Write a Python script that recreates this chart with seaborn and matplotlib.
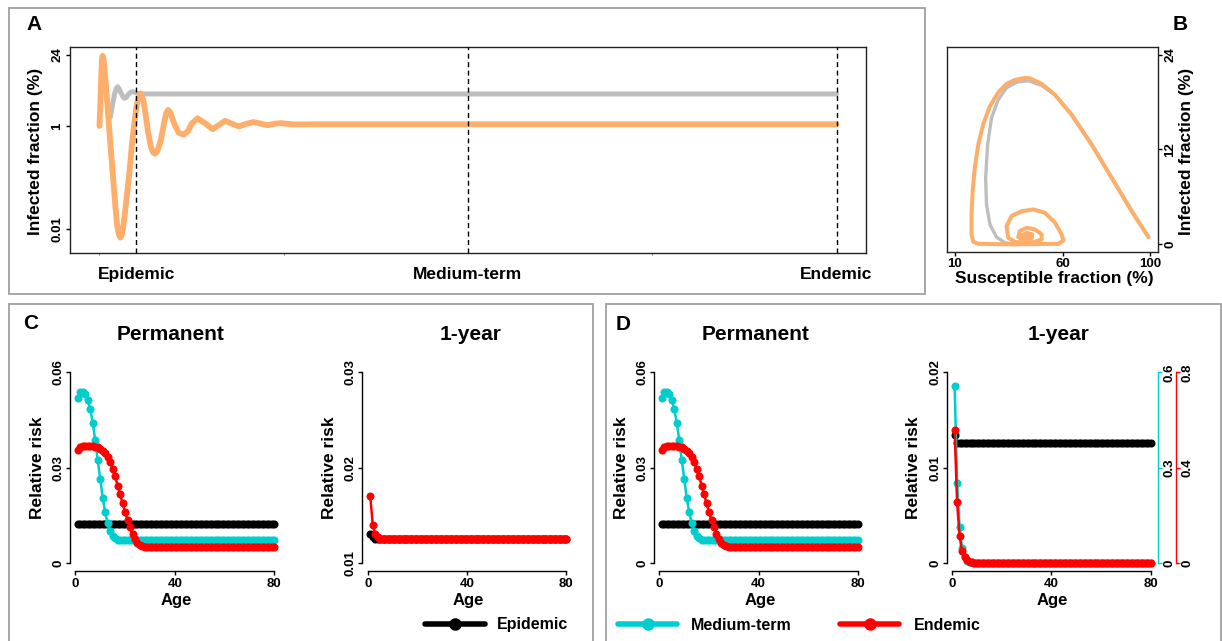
import matplotlib
matplotlib.use('Agg')
import matplotlib.pyplot as plt
import seaborn as sns
from matplotlib.patches import Rectangle
from matplotlib.lines import Line2D
from matplotlib.ticker import NullLocator

# ---------------- data ----------------
# Panel A: infected fraction (%) over time (arbitrary time units, 0..40)
a_time_orange = [0.0, 0.05, 0.10, 0.14, 0.17, 0.22, 0.30, 0.44, 0.58, 0.72, 0.85, 0.95, 1.05, 1.13,
                 1.21, 1.30, 1.38, 1.50, 1.62, 1.75, 1.89, 2.00, 2.12, 2.25, 2.38, 2.52, 2.65, 2.79,
                 2.90, 3.02, 3.15, 3.33, 3.52, 3.62, 3.73, 3.85, 4.05, 4.30, 4.56, 4.80, 5.00, 5.32,
                 5.70, 6.14, 6.50, 6.82, 7.20, 7.58, 7.95, 8.36, 8.75, 9.12, 9.50, 9.84, 10.2, 10.56,
                 12.0, 40.0]
a_orange = [1.0, 2.8, 10, 20, 22.9, 20, 10, 2.34, 0.50, 0.12, 0.032, 0.0126, 0.0079, 0.0069,
            0.0079, 0.012, 0.0204, 0.050, 0.12, 0.40, 1.12, 2.24, 3.63, 4.27, 3.16, 1.51, 0.71, 0.40,
            0.31, 0.29, 0.33, 0.54, 1.20, 1.78, 2.04, 1.82, 1.12, 0.74, 0.68, 0.79, 1.10, 1.41,
            1.15, 0.87, 1.05, 1.26, 1.10, 0.98, 1.10, 1.19, 1.11, 1.035, 1.10, 1.135, 1.10, 1.07,
            1.08, 1.08]
a_time_gray = [0.59, 0.66, 0.74, 0.82, 0.90, 0.98, 1.06, 1.15, 1.25, 1.35, 1.46, 1.58, 1.70, 1.80,
               1.90, 2.0, 2.25, 40.0]
a_gray = [1.48, 2.1, 3.0, 4.2, 5.2, 5.75, 5.3, 4.5, 3.8, 3.43, 3.6, 4.17, 4.5, 4.62, 4.5, 4.37, 4.17, 4.17]
a_tick_pos = [2, 20, 40]
a_tick_labels = ['Epidemic', 'Medium-term', 'Endemic']

# Panel B: phase plane (susceptible %, infected %)
b_orange_S = [99.2, 91.5, 82.3, 73.1, 63.8, 56.2, 50.0, 44.6, 42.3, 37.7, 33.8, 30.0, 26.2, 23.1,
              20.8, 19.2, 18.2, 17.7, 17.7, 18.5, 20.8, 36.2, 57.7, 60.0, 59.2, 56.2, 51.5, 46.2,
              40.8, 36.2, 33.8, 34.6, 37.7, 45.4, 50.0, 50.0, 46.9, 43.1, 40.0, 39.2, 42.3, 45.4,
              45.7, 43.1, 41.1, 42.3, 43.8, 43.5]
b_orange_I = [0.93, 4.2, 8.4, 12.6, 16.4, 18.9, 20.3, 21.0, 21.05, 20.8, 20.3, 19.2, 17.5, 15.2,
              12.6, 9.7, 6.7, 3.8, 1.26, 0.34, 0.08, 0.0, 0.08, 0.5, 1.26, 2.74, 4.0, 4.42,
              4.2, 3.6, 2.3, 0.84, 0.3, 0.21, 0.63, 1.26, 1.9, 2.1, 1.7, 0.93, 0.5, 0.76,
              1.26, 1.47, 1.18, 0.84, 0.97, 1.05]
b_gray_S = [99.2, 91.5, 82.3, 73.1, 63.8, 56.2, 50.0, 43.8, 38.5, 33.8, 30.0, 26.9, 25.1, 24.2,
            24.6, 26.2, 29.2, 33.1, 37.7]
b_gray_I = [0.93, 4.2, 8.4, 12.6, 16.4, 18.9, 20.1, 20.7, 20.5, 19.8, 18.3, 16.0, 12.6, 8.4,
            5.05, 2.5, 0.93, 0.21, 0.0]

# Panels C/D: relative risk by age
ages = list(range(1, 81))
perm_epidemic = [0.0124] * 80
perm_medium = [0.0520, 0.0539, 0.0539, 0.0531, 0.0513, 0.0484, 0.0441, 0.0386, 0.0323, 0.0265,
               0.0205, 0.0160, 0.0125, 0.0100, 0.0086, 0.0078, 0.0074, 0.0072] + [0.0071] * 62
perm_endemic = [0.0357, 0.0366, 0.0367, 0.0367, 0.0367, 0.0367, 0.0367, 0.0366, 0.0364, 0.0360,
                0.0354, 0.0346, 0.0334, 0.0318, 0.0297, 0.0273, 0.0244, 0.0216, 0.0188, 0.0160,
                0.0136, 0.0113, 0.0092, 0.0076, 0.0063, 0.0057, 0.0053, 0.0051, 0.0050] + [0.0049] * 51
c1_epidemic = [0.0130, 0.0127] + [0.0125] * 78
c1_endemic = [0.01705, 0.0140, 0.0130, 0.0127] + [0.0125] * 76
d1_epidemic = [0.0134] + [0.01256] * 79
d1_medium = [0.556, 0.253, 0.112, 0.047, 0.020, 0.008, 0.004, 0.002] + [0.001] * 72   # right axis 0-0.6
d1_endemic = [0.557, 0.255, 0.112, 0.049, 0.025, 0.012, 0.006, 0.003] + [0.002] * 72  # right axis 0-0.8

ORANGE = '#FDAE6B'
GRAY = '#BEBEBE'
CYAN = '#00CDCD'
RED = '#FF0000'
BLACK = '#000000'
FRAME = '#A0A0A0'

# ---------------- style ----------------
sns.set_theme(style='white')
plt.rcParams['font.family'] = ['Liberation Sans', 'DejaVu Sans']
plt.rcParams['font.weight'] = 'bold'
plt.rcParams['axes.labelweight'] = 'bold'
plt.rcParams['axes.titleweight'] = 'bold'
plt.rcParams['axes.edgecolor'] = 'black'
plt.rcParams['axes.linewidth'] = 1.0
plt.rcParams['xtick.color'] = 'black'
plt.rcParams['ytick.color'] = 'black'
plt.rcParams['text.color'] = 'black'
plt.rcParams['axes.labelcolor'] = 'black'

W, H = 1222, 641
fig = plt.figure(figsize=(W / 100, H / 100), dpi=100)


def rect(l, t, r, b):
    return [l / W, 1 - b / H, (r - l) / W, (b - t) / H]


def fx(px):
    return px / W


def fy(py):
    return 1 - py / H


def set_label_px(axis, px, py, l, t, r, b):
    axis.set_label_coords((px - l) / (r - l), (b - py) / (b - t))
    axis.label.set_va('center')
    axis.label.set_ha('center')


# frames
fig.add_artist(Rectangle((fx(9), fy(294)), (925 - 9) / W, (294 - 8) / H, transform=fig.transFigure,
                         fill=False, edgecolor=FRAME, lw=1.3))
fig.add_artist(Rectangle((fx(9), fy(648)), (593 - 9) / W, (648 - 304) / H, transform=fig.transFigure,
                         fill=False, edgecolor=FRAME, lw=1.3))
fig.add_artist(Rectangle((fx(606), fy(648)), (1221 - 606) / W, (648 - 304) / H, transform=fig.transFigure,
                         fill=False, edgecolor=FRAME, lw=1.3))

# ---------------- Panel A ----------------
LA, TA, RA, BA = 70, 46.7, 866, 252.7
axA = fig.add_axes(rect(LA, TA, RA, BA))
sns.lineplot(x=a_time_gray, y=a_gray, ax=axA, color=GRAY, linewidth=3.6, estimator=None, sort=False,
             solid_capstyle='round', solid_joinstyle='round')
sns.lineplot(x=a_time_orange, y=a_orange, ax=axA, color=ORANGE, linewidth=4.2, estimator=None, sort=False,
             solid_capstyle='round', solid_joinstyle='round')
axA.set_yscale('log')
axA.set_xlim(-1.6, 41.6)
axA.set_ylim(0.00352, 34.3)
for t in a_tick_pos:
    axA.axvline(t, color='black', lw=1.0, linestyle=(0, (3.6, 2.5)), zorder=3)
axA.set_yticks([0.01, 1, 24])
axA.set_yticklabels(['0.01', '1', '24'])
axA.yaxis.set_minor_locator(NullLocator())
plt.setp(axA.get_yticklabels(), rotation=90, va='center')
axA.tick_params(axis='y', which='major', left=True, length=3, width=1, pad=2, labelsize=9.5, direction='out')
axA.set_xticks(a_tick_pos)
axA.set_xticklabels(a_tick_labels)
axA.tick_params(axis='x', which='major', bottom=True, length=0, pad=10, labelsize=12.5)
axA.set_xticks([0, 10, 20, 30, 40], minor=True)
axA.tick_params(axis='x', which='minor', bottom=True, length=1.5, width=0.6, color='#666666')
axA.set_xlabel('')
axA.set_ylabel('Infected fraction (%)', fontsize=12.5)
set_label_px(axA.yaxis, 35.6, 151.7, LA, TA, RA, BA)
for s in axA.spines.values():
    s.set_color('#222222')
    s.set_linewidth(1.0)

# ---------------- Panel B ----------------
LB, TB, RB, BB = 947, 47, 1158, 252
axB = fig.add_axes(rect(LB, TB, RB, BB))
sns.lineplot(x=b_gray_S, y=b_gray_I, ax=axB, color=GRAY, linewidth=2.4, estimator=None, sort=False,
             solid_capstyle='round', solid_joinstyle='round')
sns.lineplot(x=b_orange_S, y=b_orange_I, ax=axB, color=ORANGE, linewidth=2.9, estimator=None, sort=False,
             solid_capstyle='round', solid_joinstyle='round')
axB.set_xlim(6.4, 103.6)
axB.set_ylim(-0.96, 24.96)
axB.yaxis.tick_right()
axB.yaxis.set_label_position('right')
axB.set_yticks([0, 12, 24])
axB.set_yticklabels(['0', '12', '24'])
plt.setp(axB.get_yticklabels(), rotation=90, va='center')
axB.set_xticks([10, 60, 100])
axB.set_xticklabels(['10', '60', '100'])
axB.tick_params(axis='both', which='major', length=3, width=1, pad=1.5, labelsize=9.5, direction='out')
axB.tick_params(axis='x', bottom=True)
axB.tick_params(axis='y', right=True, left=False)
axB.set_xlabel('Susceptible fraction (%)', fontsize=12.5)
axB.set_ylabel('Infected fraction (%)', fontsize=12.5)
set_label_px(axB.xaxis, 1054.7, 279, LB, TB, RB, BB)
set_label_px(axB.yaxis, 1186.7, 151.7, LB, TB, RB, BB)
for s in axB.spines.values():
    s.set_color('#222222')
    s.set_linewidth(1.0)

# ---------------- Panels C / D ----------------
TC, BC = 364.7, 570.7


def risk_axes(l, r, ylim, yticks, ylabels, title, title_x):
    ax = fig.add_axes(rect(l, TC, r, BC))
    ax.set_xlim(-2.16, 83.16)
    ax.set_ylim(*ylim)
    ax.spines['top'].set_visible(False)
    ax.spines['right'].set_visible(False)
    ax.spines['left'].set_bounds(yticks[0], yticks[-1])
    ax.spines['bottom'].set_bounds(0, 80)
    ax.set_yticks(yticks)
    ax.set_yticklabels(ylabels)
    plt.setp(ax.get_yticklabels(), rotation=90, va='center')
    ax.set_xticks([0, 40, 80])
    ax.set_xticklabels(['0', '40', '80'])
    ax.tick_params(axis='y', which='major', length=3, width=1, pad=1, labelsize=9.5, direction='out', left=True)
    ax.tick_params(axis='x', which='major', length=3, width=1, pad=2.5, labelsize=9.5, direction='out',
                   bottom=True)
    ax.set_xlabel('Age', fontsize=12)
    ax.set_ylabel('Relative risk', fontsize=12.5)
    set_label_px(ax.xaxis, (l + r) / 2, 600, l, TC, r, BC)
    set_label_px(ax.yaxis, l - 33, 463, l, TC, r, BC)
    ax.set_title(title, fontsize=15, y=(BC - 334.5) / (BC - TC), pad=0, va='center')
    ax.title.set_x((title_x - l) / (r - l))
    return ax


def risk_line(ax, vals, color):
    sns.lineplot(x=ages, y=vals, ax=ax, color=color, linewidth=1.8, marker='o', markersize=5.8,
                 markeredgewidth=0, estimator=None)


def finish(ax, ylim):
    ax.set_xlim(-2.16, 83.16)
    ax.set_ylim(*ylim)
    ax.set_xlabel('Age', fontsize=12)
    ax.set_ylabel('Relative risk', fontsize=12.5)


# C permanent
axCp = risk_axes(70, 282, (-0.0024, 0.0624), [0, 0.03, 0.06], ['0', '0.03', '0.06'], 'Permanent', 171)
risk_line(axCp, perm_epidemic, BLACK)
risk_line(axCp, perm_medium, CYAN)
risk_line(axCp, perm_endemic, RED)
finish(axCp, (-0.0024, 0.0624))

# C 1-year
axC1 = risk_axes(362.4, 574.2, (0.0092, 0.0308), [0.01, 0.02, 0.03], ['0.01', '0.02', '0.03'], '1-year', 470.7)
risk_line(axC1, c1_epidemic, BLACK)
risk_line(axC1, c1_endemic, RED)
finish(axC1, (0.0092, 0.0308))

# D permanent
axDp = risk_axes(654.1, 865.6, (-0.0024, 0.0624), [0, 0.03, 0.06], ['0', '0.03', '0.06'], 'Permanent', 755.5)
risk_line(axDp, perm_epidemic, BLACK)
risk_line(axDp, perm_medium, CYAN)
risk_line(axDp, perm_endemic, RED)
finish(axDp, (-0.0024, 0.0624))

# D 1-year with two extra right axes
axD1 = risk_axes(946.8, 1158.4, (-0.0008, 0.0208), [0, 0.01, 0.02], ['0', '0.01', '0.02'], '1-year', 1059)
risk_line(axD1, d1_epidemic, BLACK)
finish(axD1, (-0.0008, 0.0208))


def right_axis(ax, vals, color, ylim, ticks, labels, offset_pt):
    tw = ax.twinx()
    risk_line(tw, vals, color)
    tw.set_ylim(*ylim)
    tw.set_xlim(-2.16, 83.16)
    for s in ['top', 'left', 'bottom']:
        tw.spines[s].set_visible(False)
    tw.spines['right'].set_color(color)
    tw.spines['right'].set_linewidth(1.0)
    tw.spines['right'].set_bounds(ticks[0], ticks[-1])
    tw.spines['right'].set_position(('outward', offset_pt))
    tw.set_yticks(ticks)
    tw.set_yticklabels(labels)
    plt.setp(tw.get_yticklabels(), rotation=90, va='center')
    tw.tick_params(axis='y', which='major', right=True, left=False, length=3, width=1, color=color,
                   labelcolor='black', pad=1, labelsize=9.5, direction='out')
    tw.set_ylabel('')
    return tw


axDc = right_axis(axD1, d1_medium, CYAN, (-0.024, 0.624), [0, 0.3, 0.6], ['0', '0.3', '0.6'], 0)
axDr = right_axis(axD1, d1_endemic, RED, (-0.032, 0.832), [0, 0.4, 0.8], ['0', '0.4', '0.8'], 12.7)


# ---------------- legends ----------------
def legend_at(label, color, x_px, hl, tp):
    h = Line2D([], [], color=color, lw=4, marker='o', markersize=9, markeredgewidth=0)
    fig.legend(handles=[h], labels=[label], loc='center left', bbox_to_anchor=(fx(x_px), fy(625)),
               frameon=False, borderpad=0, borderaxespad=0, handlelength=hl, handletextpad=tp,
               fontsize=11.5)


legend_at('Epidemic', BLACK, 425, 3.75, 0.76)
legend_at('Medium-term', CYAN, 618, 3.72, 0.85)
legend_at('Endemic', RED, 840, 3.72, 0.9)

# ---------------- panel letters ----------------
for letter, x, y in [('A', 33.6, 25), ('B', 1180, 25), ('C', 30.6, 323.5), ('D', 623, 324)]:
    fig.text(fx(x), fy(y), letter, fontsize=15, fontweight='bold', ha='center', va='center')

fig.savefig('out.png', dpi=100)
